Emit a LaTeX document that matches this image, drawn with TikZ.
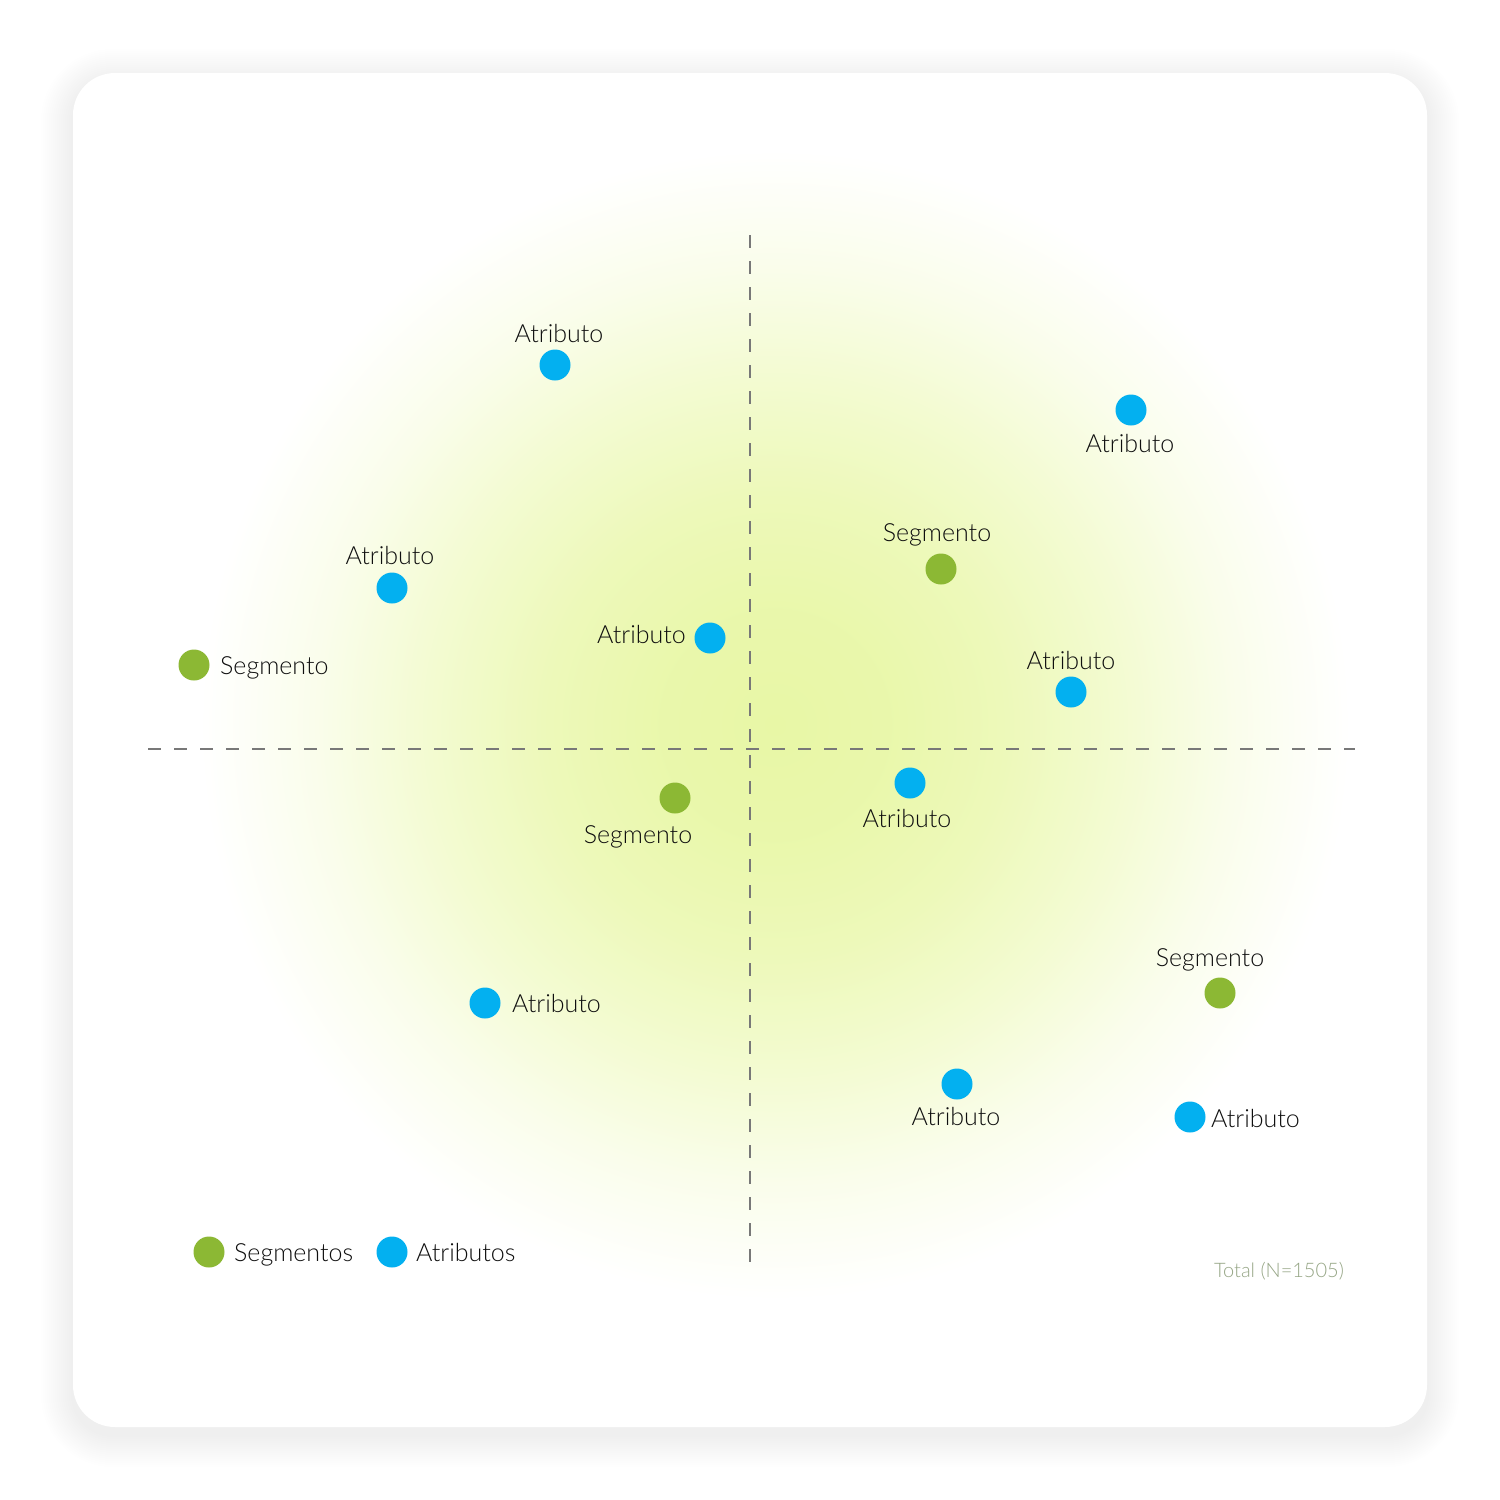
\documentclass[tikz,border=0pt]{standalone}
\usepackage{fontspec}
\setmainfont{Lato Light}
\definecolor{cblue}{RGB}{3,176,240}
\definecolor{cgreen}{RGB}{140,184,52}
\definecolor{cglow}{RGB}{232,247,166}
\definecolor{ink}{RGB}{15,15,15}
\definecolor{axisgray}{RGB}{120,120,120}
\definecolor{totalc}{RGB}{150,166,134}
\pgfdeclareradialshading{glow}{\pgfpoint{0bp}{0bp}}{color(0bp)=(cglow); color(5bp)=(cglow!94!white); color(10bp)=(cglow!78!white); color(15bp)=(cglow!52!white); color(20bp)=(cglow!22!white); color(25bp)=(white); color(50bp)=(white)}
\begin{document}
\begin{tikzpicture}[x=1pt,y=-1pt,
  dotB/.style={circle,fill=cblue,minimum size=31pt,inner sep=0pt},
  dotG/.style={circle,fill=cgreen,minimum size=31pt,inner sep=0pt},
  lbl/.style={font=\fontsize{25}{29}\selectfont,text=ink,inner sep=0pt},
  axisline/.style={draw=axisgray,line width=1.7pt,dash pattern=on 13pt off 13pt}]
\useasboundingbox (0,0) rectangle (1500,1500);
\fill[white] (0,0) rectangle (1500,1500);
% shadow
\foreach \i in {1,...,16}{
  \fill[black,opacity=0.004,rounded corners=40+2*\i] (73-2*\i,81-2*\i) rectangle (1427+2*\i,1435+2*\i);
}
% card
\fill[white,rounded corners=42] (73,73) rectangle (1427,1427);
\begin{scope}
  \clip[rounded corners=42] (73,73) rectangle (1427,1427);
  \shade[shading=glow] (775,725) circle (575);
\end{scope}
% axes
\coordinate (hL) at (148,749);
\coordinate (hR) at (1355,749);
\coordinate (vT) at (750,235);
\coordinate (vB) at (750,1265);
\draw[axisline] (hL) -- (hR);
\draw[axisline] (vT) -- (vB);
% attribute points
\node[dotB] (a1) at (555,365) {};
\node[lbl,anchor=base] (a1t) at (559,342) {Atributo};
\node[dotB] (a2) at (1131,410) {};
\node[lbl,anchor=base] (a2t) at (1130,452) {Atributo};
\node[dotB] (a3) at (392,588) {};
\node[lbl,anchor=base] (a3t) at (390,564) {Atributo};
\node[dotB] (a4) at (710,638) {};
\node[lbl,anchor=base east] (a4t) at (686,643) {Atributo};
\node[dotB] (a5) at (1071,692) {};
\node[lbl,anchor=base] (a5t) at (1071,669) {Atributo};
\node[dotB] (a6) at (910,783) {};
\node[lbl,anchor=base] (a6t) at (907,827) {Atributo};
\node[dotB] (a7) at (485,1003) {};
\node[lbl,anchor=base west] (a7t) at (512,1012) {Atributo};
\node[dotB] (a8) at (957,1084) {};
\node[lbl,anchor=base] (a8t) at (956,1125) {Atributo};
\node[dotB] (a9) at (1190,1117) {};
\node[lbl,anchor=base west] (a9t) at (1211,1127) {Atributo};
% segment points
\node[dotG] (s1) at (941,569) {};
\node[lbl,anchor=base] (s1t) at (937,541) {Segmento};
\node[dotG] (s2) at (194,665) {};
\node[lbl,anchor=base west] (s2t) at (220,674) {Segmento};
\node[dotG] (s3) at (675,798) {};
\node[lbl,anchor=base] (s3t) at (638,843) {Segmento};
\node[dotG] (s4) at (1220,993) {};
\node[lbl,anchor=base] (s4t) at (1210,966) {Segmento};
% legend
\node[dotG] (lg) at (209,1252) {};
\node[lbl,anchor=base west] (lgt) at (234,1261) {Segmentos};
\node[dotB] (lb) at (392,1252) {};
\node[lbl,anchor=base west] (lbt) at (416,1261) {Atributos};
% total
\node[font=\fontsize{20}{23}\selectfont,text=totalc,inner sep=0pt,anchor=base] (tot) at (1279,1277) {Total (N=1505)};
\end{tikzpicture}
\end{document}
